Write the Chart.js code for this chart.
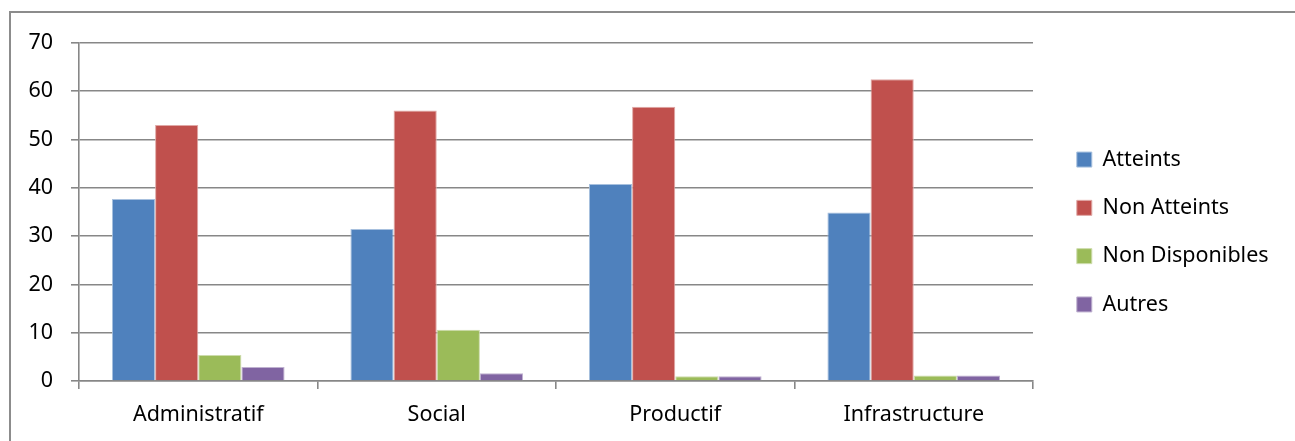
<!DOCTYPE html>
<html>
<head>
<meta charset="utf-8">
<script src="https://cdn.jsdelivr.net/npm/chart.js@4.4.1/dist/chart.umd.min.js"></script>
<style>
  html, body { margin: 0; padding: 0; background: #fff; overflow: hidden; }
  #frame {
    position: absolute; left: 9px; top: 11px;
    width: 1400px; height: 600px;
    border: 2px solid #8c8c8c;
  }
  #wrap { position: absolute; left: 0; top: 0; width: 1295px; height: 441px; }
</style>
</head>
<body>
<div id="frame"></div>
<div id="wrap"><canvas id="chart" width="1295" height="441"></canvas></div>
<script>
const categories = ['Administratif', 'Social', 'Productif', 'Infrastructure'];
const seriesNames = ['Atteints', 'Non Atteints', 'Non Disponibles', 'Autres'];
const atteints = [37.7, 31.5, 40.8, 34.9];
const nonAtteints = [53.0, 56.0, 56.8, 62.5];
const nonDisponibles = [5.4, 10.6, 1.0, 1.15];
const autres = [2.9, 1.6, 1.0, 1.15];
const yTicks = [0, 10, 20, 30, 40, 50, 60, 70];

const colors = ['#4f81bd', '#c0504d', '#9bbb59', '#8064a2'];
const edges = ['#a7c0de', '#e0a8a6', '#cddcac', '#bfb1d0'];
const gridGray = '#878787';
const font = { family: 'Noto Sans', size: 21.5 };

// legend sits a bit further right and higher than Chart.js puts it
const legendTweak = {
  id: 'legendTweak',
  beforeInit(chart) {
    const fit = chart.legend.fit;
    chart.legend.fit = function () {
      fit.call(this);
      this.width = 262;
    };
  },
  afterLayout(chart) {
    const lg = chart.legend;
    lg.left += 17;
    lg.right += 17;
    lg.top -= 10;
    lg.bottom -= 10;
  }
};

const values = [atteints, nonAtteints, nonDisponibles, autres];

new Chart(document.getElementById('chart'), {
  type: 'bar',
  data: {
    labels: categories,
    datasets: seriesNames.map((name, i) => ({
      label: name,
      data: values[i],
      backgroundColor: colors[i],
      borderColor: edges[i],
      borderWidth: 1,
      categoryPercentage: 0.724,
      barPercentage: 1
    }))
  },
  options: {
    responsive: false,
    animation: false,
    layout: { padding: { top: 43, bottom: 0, left: 0, right: 0 } },
    plugins: {
      tooltip: { enabled: false },
      legend: {
        position: 'right',
        labels: {
          boxWidth: 15,
          boxHeight: 15,
          padding: 26.8,
          color: '#000',
          font: font
        }
      }
    },
    scales: {
      x: {
        grid: {
          offset: true,
          drawOnChartArea: false,
          drawTicks: true,
          tickLength: 8,
          color: gridGray,
          lineWidth: 1.6
        },
        border: { color: gridGray, width: 1.6 },
        ticks: { color: '#000', font: font, padding: 13, maxRotation: 0 },
        afterFit(s) { s.height = 60; }
      },
      y: {
        min: 0,
        max: 70,
        afterBuildTicks(s) { s.ticks = yTicks.map(v => ({ value: v })); },
        grid: { color: gridGray, lineWidth: 1.6, tickLength: 8 },
        border: { color: gridGray, width: 1.6 },
        ticks: { color: '#000', font: font, padding: 18 },
        afterFit(s) { s.width = 79; }
      }
    }
  },
  plugins: [legendTweak]
});
</script>
</body>
</html>
